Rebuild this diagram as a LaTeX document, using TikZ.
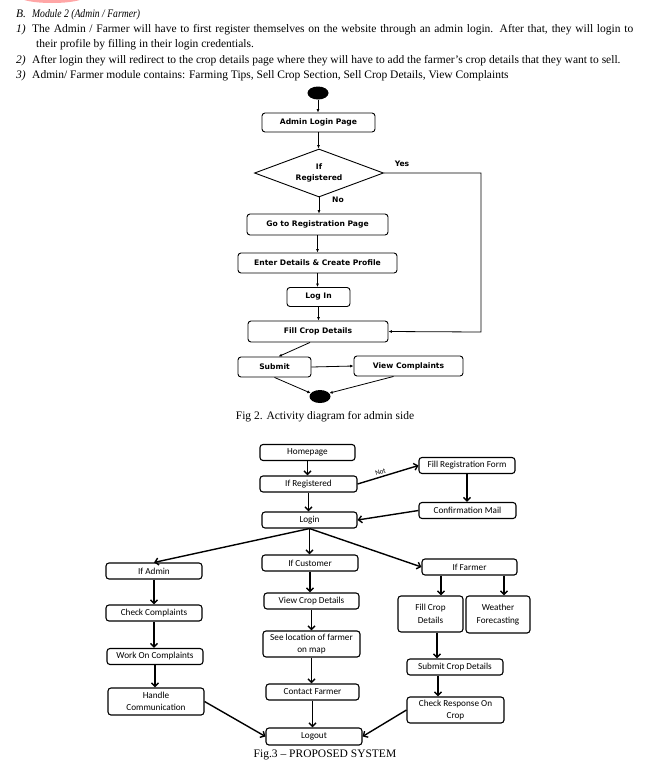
\documentclass[tikz,border=0pt]{standalone}
\usepackage{fontspec}
\setmainfont{Liberation Serif}
\newfontfamily\calib{Carlito}
\newfontfamily\verd{DejaVu Sans}
\usetikzlibrary{shapes.geometric,arrows.meta,calc}
\begin{document}
\begin{tikzpicture}[x=1pt,y=-1pt,
  txt/.style={inner sep=0pt, anchor=base west, font=\fontsize{11.5}{15}\selectfont},
  b2/.style={draw, rounded corners=3pt, line width=0.9pt, font=\verd\bfseries\fontsize{7.6}{11}\selectfont, inner sep=0pt, align=center},
  lab2/.style={inner sep=0pt, font=\verd\bfseries\fontsize{7.6}{11}\selectfont},
  a2/.style={-{Latex[length=3.5pt,width=3pt]}, line width=0.8pt},
  b3/.style={draw, rounded corners=3pt, line width=1.1pt, font=\calib\fontsize{9.2}{12.5}\selectfont, inner sep=0pt, align=center},
  a3/.style={-{Straight Barb[length=3.5pt,width=7pt]}, line width=1.4pt},
  figcap/.style={inner sep=0pt, font=\fontsize{11.5}{13}\selectfont}
]
\useasboundingbox[fill=white] (0,0) rectangle (645,766);
\begin{scope}
\clip (0,0) rectangle (645,766);
\fill[red!35] (52,-3) ellipse (32 and 6);
\end{scope}

% header text
\node[txt] (hB) at (16,17) {\textit{B.}};
\node[txt] (hM) at (32,17) {\scalebox{0.84}[1]{\textit{Module 2 (Admin / Farmer)}}};
\node[txt] (h1n) at (16,32) {\textit{1)}};
\node[txt] (h1) at (32,32) {\makebox[601pt][s]{The Admin / Farmer will have to first register themselves on the website through an admin login. After that, they will login to}};
\node[txt] (h1b) at (36,47) {their profile by filling in their login credentials.};
\node[txt] (h2n) at (16,63) {\textit{2)}};
\node[txt] (h2) at (32,63) {After login they will redirect to the crop details page where they will have to add the farmer’s crop details that they want to sell.};
\node[txt] (h3n) at (16,78) {\textit{3)}};
\node[txt] (h3) at (32,78) {Admin/ Farmer module contains: Farming Tips, Sell Crop Section, Sell Crop Details, View Complaints};

% ---------------- Fig 2 ----------------
\node[ellipse, fill=black, minimum width=21pt, minimum height=13pt, inner sep=0pt] (st) at (318,93) {};
\node[b2, minimum width=113pt, minimum height=19pt] (alp) at (318.5,122.5) {Admin Login Page};
\node[diamond, draw, line width=0.9pt, aspect=2.7, inner sep=0pt, minimum width=129pt, minimum height=48pt, align=center, font=\verd\bfseries\fontsize{7.6}{11}\selectfont] (dia) at (319,173) {If\\Registered};
\node[b2, minimum width=141pt, minimum height=21pt] (goreg) at (317.5,224.5) {Go to Registration Page};
\node[b2, minimum width=159pt, minimum height=20pt] (enter) at (317.5,263) {Enter Details \& Create Profile};
\node[b2, minimum width=63pt, minimum height=19pt] (login) at (318.5,297) {Log In};
\node[b2, minimum width=140pt, minimum height=21pt] (fill) at (318,331.5) {Fill Crop Details};
\node[b2, minimum width=73pt, minimum height=20pt] (submit) at (274.5,367) {Submit};
\node[b2, minimum width=109pt, minimum height=20pt] (viewc) at (408.5,366) {View Complaints};
\node[ellipse, fill=black, minimum width=21pt, minimum height=13pt, inner sep=0pt] (en) at (320,396.5) {};
\coordinate (yc1) at (481,173);
\coordinate (yc2) at (481,332);
\node[lab2] (yes) at (402,164) {Yes};
\node[lab2] (no) at (338,200) {No};

\draw[a2] (st.south) -- (st.south |- alp.north);
\draw[a2] (alp.south) -- (alp.south |- dia.north);
\draw[a2] (dia.south) -- (dia.south |- goreg.north);
\draw[a2] (goreg.south) -- (goreg.south |- enter.north);
\draw[a2] (enter.south) -- (enter.south |- login.north);
\draw[a2] (login.south) -- (login.south |- fill.north);
\draw[a2] (dia.east) -- (yc1) -- (yc2) -- (fill.east);
\draw[a2] ([xshift=-8pt]fill.south) -- ([xshift=4pt]submit.north);
\draw[a2] (submit.east) -- (viewc.west);
\draw[a2] (submit.south) -- (en.160);
\draw[a2] ([xshift=-15pt]viewc.south) -- (en.20);

\node[figcap] (cap2) at (325,417) {Fig 2. Activity diagram for admin side};

% ---------------- Fig 3 ----------------
\node[b3, minimum width=95pt, minimum height=16pt] (home) at (307.5,452.5) {Homepage};
\node[b3, minimum width=97pt, minimum height=16pt] (ifreg) at (308.5,484) {If Registered};
\node[b3, minimum width=95pt, minimum height=16pt] (log3) at (309.5,520) {Login};
\node[b3, minimum width=96pt, minimum height=16pt] (freg) at (467,465.5) {Fill Registration Form};
\node[b3, minimum width=97pt, minimum height=16pt] (conf) at (467.5,510.5) {Confirmation Mail};
\node[b3, minimum width=96pt, minimum height=16pt] (ifadm) at (154,571) {If Admin};
\node[b3, minimum width=96pt, minimum height=16pt] (ifcus) at (310,563) {If Customer};
\node[b3, minimum width=95pt, minimum height=16pt] (iffar) at (469.5,567) {If Farmer};
\node[b3, minimum width=96pt, minimum height=16pt] (chk) at (154,613) {Check Complaints};
\node[b3, minimum width=95pt, minimum height=16pt] (vcd) at (311.5,601) {View Crop Details};
\node[b3, minimum width=65pt, minimum height=36pt] (fcd) at (430.5,614) {Fill Crop\\Details};
\node[b3, minimum width=64pt, minimum height=37pt] (wf) at (498,614.5) {Weather\\Forecasting};
\node[b3, minimum width=97pt, minimum height=26pt] (sloc) at (311.5,644) {See location of farmer\\on map};
\node[b3, minimum width=96pt, minimum height=16pt] (woc) at (155,656.5) {Work On Complaints};
\node[b3, minimum width=96pt, minimum height=27pt] (hc) at (156,701.5) {Handle\\Communication};
\node[b3, minimum width=93pt, minimum height=16pt] (cf) at (312.5,692) {Contact Farmer};
\node[b3, minimum width=96pt, minimum height=16pt] (scd) at (455,667) {Submit Crop Details};
\node[b3, minimum width=97pt, minimum height=26pt] (cro) at (455.5,710) {Check Response On\\Crop};
\node[b3, minimum width=96pt, minimum height=17pt] (lo) at (314,736.5) {Logout};

\draw[a3] (home.south) -- (home.south |- ifreg.north);
\draw[a3] (ifreg.south) -- (ifreg.south |- log3.north);
\draw[a3] (ifreg.east) -- node[sloped, above, pos=0.4, inner sep=2pt, font=\calib\fontsize{7}{8}\selectfont] {Not} (freg.west);
\draw[a3] (freg.south) -- (freg.south |- conf.north);
\draw[a3] (conf.west) -- (log3.east);
\draw[a3] (log3.south) -- (ifadm.north);
\draw[a3] (log3.south) -- (log3.south |- ifcus.north);
\draw[a3] (log3.south) -- (iffar.west);
\draw[a3] (ifadm.south) -- (ifadm.south |- chk.north);
\draw[a3] (chk.south) -- (chk.south |- woc.north);
\draw[a3] (woc.south) -- (woc.south |- hc.north);
\draw[a3] (hc.east) -- (lo.west);
\draw[a3] (ifcus.south) -- (ifcus.south |- vcd.north);
\draw[a3] (vcd.south) -- (vcd.south |- sloc.north);
\draw[a3] (sloc.south) -- (sloc.south |- cf.north);
\draw[a3] (cf.south) -- (cf.south |- lo.north);
\draw[a3] ([xshift=-28.5pt]iffar.south) -- ([xshift=-28.5pt]iffar.south |- fcd.north);
\draw[a3] ([xshift=34.5pt]iffar.south) -- ([xshift=34.5pt]iffar.south |- wf.north);
\draw[a3] ([xshift=6.5pt]fcd.south) -- ([xshift=6.5pt]fcd.south |- scd.north);
\draw[a3] ([xshift=-17pt]scd.south) -- ([xshift=-17pt]scd.south |- cro.north);
\draw[a3] (cro.west) -- (lo.east);

\node[figcap] (cap3) at (325,755) {Fig.3 – PROPOSED SYSTEM};
\end{tikzpicture}
\end{document}
